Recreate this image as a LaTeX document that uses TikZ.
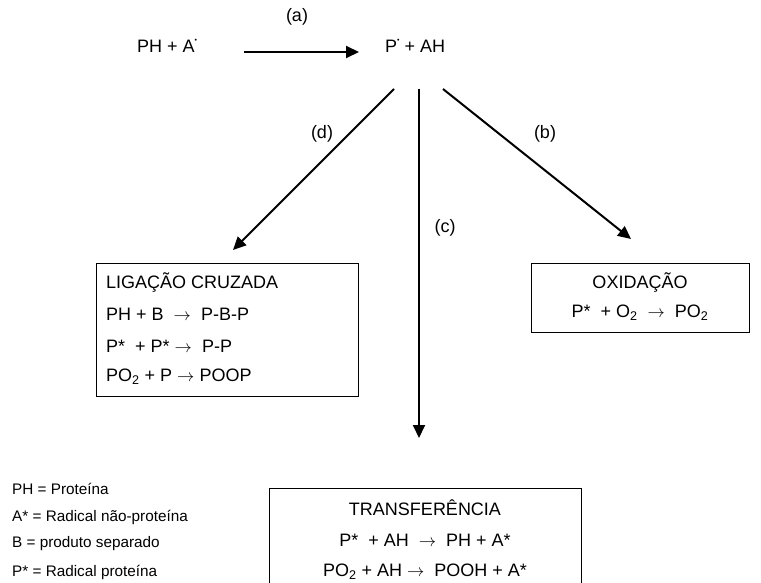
\documentclass[tikz,border=0pt]{standalone}
\usepackage{fontspec}
\setmainfont{Liberation Sans}
\usetikzlibrary{arrows.meta}
\newcommand{\rar}{\ensuremath{\rightarrow}}
\newcommand{\rdot}{\raisebox{0.55em}{\fontsize{7}{7}\selectfont\textbullet}}
\begin{document}
\begin{tikzpicture}[x=1pt,y=-1pt,
  txt/.style={inner sep=0pt,font=\fontsize{18}{20}\selectfont},
  lgd/.style={inner sep=0pt,anchor=west,font=\fontsize{15.3}{18}\selectfont},
  boxline/.style={draw=black,line width=1.3pt},
  arr/.style={line width=2pt,-{Triangle[length=13pt,width=12pt]}}]
\clip (0,0) rectangle (761,583);
\fill[white] (0,0) rectangle (761,583);
% top reaction
\node[txt,anchor=west] (ph) at (137,46) {PH + A\rdot};
\node[txt,anchor=west] (pah) at (385,46) {P\rdot\ + AH};
\node[txt] (la) at (297,17) {(a)};
\coordinate (as) at (244,52);
\coordinate (ae) at (359,52);
\draw[arr] (as) -- (ae);
% branches
\coordinate (ds) at (394,89);
\coordinate (de) at (233,250);
\coordinate (cs) at (419,89);
\coordinate (ce) at (419,438);
\coordinate (bs) at (443,89);
\coordinate (be) at (631,239);
\draw[arr] (ds) -- (de);
\draw[arr] (cs) -- (ce);
\draw[arr] (bs) -- (be);
\node[txt] (ld) at (322,134) {(d)};
\node[txt] (lb) at (545,134) {(b)};
\node[txt] (lc) at (445,228) {(c)};
% LIGACAO box
\node[boxline,minimum width=262pt,minimum height=133pt,anchor=north west,inner sep=0pt] (lig) at (96,263) {};
\node[txt,anchor=west] (l1) at (106,283) {LIGAÇÃO CRUZADA};
\node[txt,anchor=west] (l2) at (106,314) {PH + B \ \rar\ \ P-B-P};
\node[txt,anchor=west] (l3) at (106,346) {P* \ + P* \rar\ \ P-P};
\node[txt,anchor=west] (l4) at (106,377) {PO\textsubscript{2} + P \rar\ POOP};
% OXIDACAO box
\node[boxline,minimum width=218pt,minimum height=69pt,anchor=north west,inner sep=0pt] (oxi) at (531,263) {};
\node[txt] (o1) at (640,283) {OXIDAÇÃO};
\node[txt] (o2) at (640,313) {P* \ + O\textsubscript{2} \ \rar\ \ PO\textsubscript{2}};
% TRANSFERENCIA box
\node[boxline,minimum width=312pt,minimum height=130pt,anchor=north west,inner sep=0pt] (tra) at (269,488) {};
\node[txt] (t1) at (425,508) {TRANSFERÊNCIA};
\node[txt] (t2) at (425,540) {P* \ + AH \ \rar\ \ PH + A*};
\node[txt] (t3) at (425,572) {PO\textsubscript{2} + AH \rar\ \ POOH + A*};
% legend
\node[lgd] (g1) at (12,489) {PH = Proteína};
\node[lgd] (g2) at (12,517) {A* = Radical não-proteína};
\node[lgd] (g3) at (12,544) {B = produto separado};
\node[lgd] (g4) at (12,572) {P* = Radical proteína};
\end{tikzpicture}
\end{document}
